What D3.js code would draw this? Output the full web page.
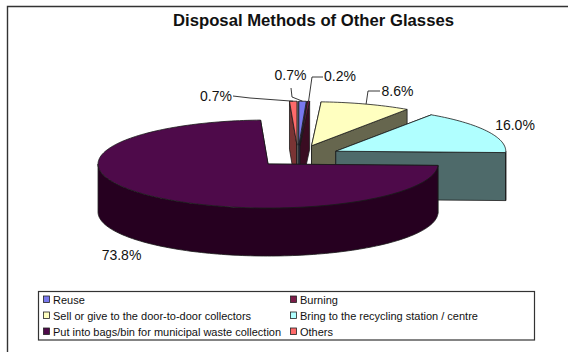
<!DOCTYPE html>
<html>
<head>
<meta charset="utf-8">
<script src="https://cdn.jsdelivr.net/npm/d3@7"></script>
<style>
  html, body { margin: 0; padding: 0; background: #fff; }
  svg { display: block; }
  text { font-family: "Liberation Sans", Arial, sans-serif; fill: #111; }
</style>
</head>
<body>
<svg id="chart" width="568" height="352"></svg>
<script>
// Disposal methods, clockwise from twelve o'clock
const categories = ["Reuse", "Burning", "Sell or give to the door-to-door collectors",
  "Bring to the recycling station / centre", "Put into bags/bin for municipal waste collection", "Others"];
const shares = [0.7, 0.2, 8.6, 16.0, 73.8, 0.7];
const topColors = ["#7878ee", "#7a1c48", "#ffffc0", "#b0ffff", "#4e0a4a", "#ff6a6a"];
const wallColors = ["#3c3c76", "#3a0c22", "#66664e", "#4e6a6a", "#260020", "#7a3434"];

// Legend is laid out in two columns, reading left to right
const legendOrder = [0, 1, 2, 3, 4, 5];

// Projection of the tilted pie
const centre = { x: 297.9, y: 156.2 };
const radii = { x: 170, y: 44 };
const depth = 48;
const explode = 0.25;

const px = d3.scaleLinear().domain([-1, 1]).range([centre.x - radii.x, centre.x + radii.x]);
const py = d3.scaleLinear().domain([-1, 1]).range([centre.y - radii.y, centre.y + radii.y]);

const svg = d3.select("#chart");

// Frame runs off the right and bottom of the page
svg.append("path")
  .attr("d", "M7.5,352V6.5H568")
  .attr("fill", "none").attr("stroke", "#333").attr("stroke-width", 1.4);

svg.append("text")
  .attr("x", 313.5).attr("y", 26)
  .attr("text-anchor", "middle")
  .attr("font-size", 16.7).attr("font-weight", "bold")
  .text("Disposal Methods of Other Glasses");

const arcs = d3.pie().sort(null).startAngle(0).endAngle(2 * Math.PI)(shares);
const line = d3.line();

// Point at fraction r of the radius along angle a, for a slice pushed out along its mid angle
function onSlice(d, a, r, drop = 0) {
  const mid = (d.startAngle + d.endAngle) / 2;
  const u = explode * Math.sin(mid) + r * Math.sin(a);
  const v = -explode * Math.cos(mid) - r * Math.cos(a);
  return [px(u), py(v) + drop];
}
function rim(d, from, to, drop) {
  const n = Math.max(2, Math.ceil((to - from) * 40));
  return d3.range(n + 1).map(i => onSlice(d, from + (to - from) * i / n, 1, drop));
}

// Painter's order: back slivers first, the large front slice last
const paintOrder = [5, 0, 1, 2, 3, 4];
const stroke = "#1a1a1a";

paintOrder.forEach(i => {
  const d = arcs[i];
  const g = svg.append("g").attr("class", "slice");
  const apex = onSlice(d, 0, 0), apexLow = onSlice(d, 0, 0, depth);
  [d.startAngle, d.endAngle].forEach(a => {
    const r = onSlice(d, a, 1), rLow = onSlice(d, a, 1, depth);
    g.append("path")
      .attr("d", line([apex, r, rLow, apexLow]) + "Z")
      .attr("fill", wallColors[i]).attr("stroke", stroke).attr("stroke-width", 0.8);
  });
  // Outer wall is only seen on the near half of the ellipse
  const from = Math.max(d.startAngle, Math.PI / 2);
  const to = Math.min(d.endAngle, 3 * Math.PI / 2);
  if (to > from) {
    g.append("path")
      .attr("d", line([...rim(d, from, to, 0), ...rim(d, from, to, depth).reverse()]) + "Z")
      .attr("fill", wallColors[i]).attr("stroke", stroke).attr("stroke-width", 0.8);
  }
  g.append("path")
    .attr("d", line([apex, ...rim(d, d.startAngle, d.endAngle, 0)]) + "Z")
    .attr("fill", topColors[i]).attr("stroke", stroke).attr("stroke-width", 0.8);
});

// Percentage labels; elbows are the bends of the leader running to the slice rim
const labelSpots = [
  { x: 290.5, y: 80, elbows: [[291, 88], [292, 97]] },
  { x: 340, y: 81, elbows: [[323, 77], [312, 77]] },
  { x: 397.5, y: 96, elbows: [[380, 91], [368, 91]] },
  { x: 515, y: 130, elbows: [] },
  { x: 121.5, y: 260, elbows: [] },
  { x: 216, y: 100.5, elbows: [[233, 96], [250, 98]] }
];

arcs.forEach((d, i) => {
  const spot = labelSpots[i];
  if (spot.elbows.length) {
    const mid = (d.startAngle + d.endAngle) / 2;
    svg.append("path")
      .attr("d", line([...spot.elbows, onSlice(d, mid, 1)]))
      .attr("fill", "none").attr("stroke", "#222").attr("stroke-width", 0.9);
  }
  svg.append("text")
    .attr("x", spot.x).attr("y", spot.y)
    .attr("text-anchor", "middle").attr("font-size", 14)
    .text(d3.format(".1f")(d.data) + "%");
});

// Legend box
const legend = svg.append("g").attr("class", "legend");
legend.append("rect")
  .attr("x", 38.5).attr("y", 291.5).attr("width", 496).attr("height", 48.5)
  .attr("fill", "#fff").attr("stroke", "#333").attr("stroke-width", 1.2);

const colX = d3.scalePoint().domain([0, 1]).range([43.5, 290.5]);
const rowY = d3.scalePoint().domain([0, 1, 2]).range([296, 328]);

legendOrder.forEach((c, k) => {
  const col = k % 2, row = Math.floor(k / 2);
  legend.append("rect")
    .attr("x", colX(col)).attr("y", rowY(row))
    .attr("width", 6).attr("height", 6.5)
    .attr("fill", topColors[c]).attr("stroke", "#222").attr("stroke-width", 0.8);
  legend.append("text")
    .attr("x", colX(col) + 9.5).attr("y", rowY(row) + 7.5)
    .attr("font-size", 11)
    .text(categories[c]);
});
</script>
</body>
</html>
